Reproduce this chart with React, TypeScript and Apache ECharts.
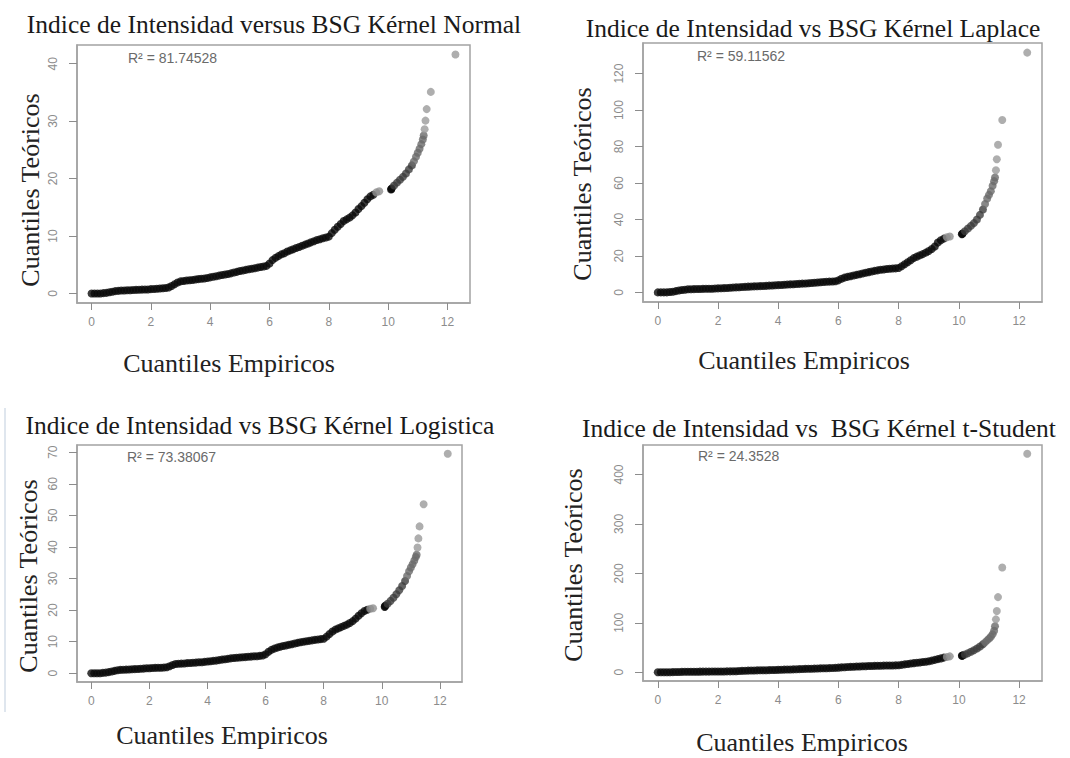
import React, { useEffect, useRef } from "react";
import * as echarts from "echarts";

// Empirical quantiles (shared x values of the four Q-Q plots)
const empiricalQuantiles = [
  0, 0.1, 0.2, 0.3, 0.4, 0.5, 0.6, 0.7, 0.8, 0.9,
  1.0, 1.1, 1.2, 1.3, 1.4, 1.5, 1.6, 1.7, 1.8, 1.9,
  2.0, 2.1, 2.2, 2.3, 2.4, 2.5, 2.6, 2.7, 2.8, 2.9,
  3.0, 3.1, 3.2, 3.3, 3.4, 3.5, 3.6, 3.7, 3.8, 3.9,
  4.0, 4.1, 4.2, 4.3, 4.4, 4.5, 4.6, 4.7, 4.8, 4.9,
  5.0, 5.1, 5.2, 5.3, 5.4, 5.5, 5.6, 5.7, 5.8, 5.9,
  6.0, 6.1, 6.2, 6.3, 6.4, 6.5, 6.6, 6.7, 6.8, 6.9,
  7.0, 7.1, 7.2, 7.3, 7.4, 7.5, 7.6, 7.7, 7.8, 7.9,
  8.0, 8.1, 8.2, 8.3, 8.4, 8.5, 8.6, 8.7, 8.8, 8.9,
  9.0, 9.1, 9.2, 9.3, 9.4, 9.5,
  9.6, 9.7,
  10.1, 10.11, 10.12, 10.2, 10.3, 10.4, 10.5, 10.6, 10.7, 10.8,
  10.87, 10.94, 11.0, 11.06, 11.12, 11.17, 11.2, 11.23, 11.26, 11.3,
  11.44, 12.27,
];

// Theoretical quantiles, BSG Kernel Normal
const theoreticalNormal = [
  0, 0, 0, 0, 0.05, 0.1, 0.2, 0.3, 0.4, 0.45,
  0.5, 0.52, 0.55, 0.57, 0.6, 0.62, 0.64, 0.66, 0.68, 0.7,
  0.75, 0.78, 0.82, 0.86, 0.9, 0.95, 1.05, 1.3, 1.6, 1.9,
  2.1, 2.18, 2.25, 2.3, 2.35, 2.42, 2.5, 2.55, 2.6, 2.7,
  2.8, 2.9, 3.0, 3.1, 3.2, 3.3, 3.4, 3.5, 3.65, 3.75,
  3.9, 4.0, 4.1, 4.2, 4.3, 4.4, 4.5, 4.6, 4.7, 4.8,
  5.2, 5.8, 6.2, 6.5, 6.8, 7.0, 7.3, 7.5, 7.7, 7.9,
  8.1, 8.3, 8.5, 8.7, 8.9, 9.1, 9.3, 9.45, 9.6, 9.75,
  9.9, 10.5, 11.1, 11.6, 12.1, 12.6, 12.9, 13.2, 13.6, 14.1,
  14.7, 15.2, 15.8, 16.4, 16.9, 17.2,
  17.6, 17.8,
  18.1, 18.2, 18.3, 18.8, 19.3, 19.8, 20.3, 20.9, 21.6, 22.3,
  23.0, 23.8, 24.5, 25.2, 26.0, 26.8, 27.5, 28.6, 30.1, 32.1,
  35.1, 41.6,
];

// Theoretical quantiles, BSG Kernel Laplace
const theoreticalLaplace = [
  0, 0, 0, 0, 0.2, 0.4, 0.7, 1.0, 1.3, 1.5,
  1.7, 1.75, 1.8, 1.85, 1.9, 1.95, 2.0, 2.0, 2.05, 2.1,
  2.2, 2.3, 2.35, 2.45, 2.55, 2.65, 2.75, 2.85, 2.95, 3.05,
  3.15, 3.25, 3.3, 3.4, 3.45, 3.55, 3.6, 3.7, 3.8, 3.9,
  4.0, 4.1, 4.2, 4.3, 4.4, 4.5, 4.6, 4.7, 4.8, 4.9,
  5.0, 5.15, 5.3, 5.45, 5.6, 5.7, 5.8, 5.9, 6.0, 6.1,
  6.6, 7.5, 8.1, 8.5, 8.9, 9.3, 9.6, 10.0, 10.4, 10.8,
  11.1, 11.5, 11.8, 12.1, 12.4, 12.6, 12.8, 13.0, 13.1, 13.2,
  13.4, 14.3, 15.4, 16.5, 17.6, 18.8, 19.6, 20.3, 21.0, 21.8,
  22.7, 23.8, 25.2, 27.4, 28.6, 29.5,
  30.2, 30.7,
  31.9, 32.1, 32.3, 33.5, 35.0, 36.5, 38.0, 40.0, 42.5, 45.5,
  48.5, 51.5, 53.5, 55.5, 58.5, 61.0, 63.0, 67.0, 73.0, 81.0,
  94.5, 131.5,
];

// Theoretical quantiles, BSG Kernel Logistica
const theoreticalLogistica = [
  0, 0, 0, 0, 0.1, 0.2, 0.35, 0.55, 0.75, 0.95,
  1.05, 1.1, 1.15, 1.2, 1.25, 1.3, 1.35, 1.4, 1.45, 1.55,
  1.6, 1.65, 1.7, 1.72, 1.75, 1.8, 1.9, 2.2, 2.6, 2.9,
  3.0, 3.05, 3.1, 3.2, 3.25, 3.3, 3.35, 3.45, 3.5, 3.6,
  3.7, 3.8, 3.9, 4.0, 4.15, 4.3, 4.4, 4.55, 4.7, 4.8,
  4.9, 5.0, 5.05, 5.1, 5.2, 5.25, 5.35, 5.4, 5.5, 5.6,
  6.0, 6.8, 7.4, 7.8, 8.1, 8.4, 8.6, 8.8, 9.0, 9.2,
  9.4, 9.6, 9.8, 9.95, 10.1, 10.25, 10.4, 10.55, 10.7, 10.8,
  10.9, 11.6, 12.4, 13.2, 13.8, 14.2, 14.6, 15.0, 15.4, 15.9,
  16.5, 17.3, 18.2, 19.0, 19.7, 20.1,
  20.4, 20.6,
  21.0, 21.2, 21.4, 22.0, 22.9, 23.9, 25.0, 26.3, 27.6, 29.2,
  30.8, 32.3, 33.5, 34.5, 35.7, 36.8, 37.5, 39.8, 42.7, 46.5,
  53.5, 69.5,
];

// Theoretical quantiles, BSG Kernel t-Student
const theoreticalTStudent = [
  0, 0, 0, 0, 0.1, 0.2, 0.4, 0.6, 0.8, 0.9,
  1.0, 1.05, 1.1, 1.15, 1.2, 1.25, 1.3, 1.35, 1.4, 1.45,
  1.55, 1.6, 1.7, 1.8, 1.85, 1.95, 2.1, 2.4, 2.8, 3.1,
  3.3, 3.45, 3.6, 3.75, 3.9, 4.05, 4.2, 4.35, 4.5, 4.7,
  4.9, 5.1, 5.3, 5.5, 5.7, 5.9, 6.1, 6.4, 6.6, 6.8,
  7.0, 7.2, 7.4, 7.6, 7.8, 8.0, 8.2, 8.4, 8.6, 8.8,
  9.3, 9.9, 10.3, 10.6, 10.9, 11.2, 11.5, 11.8, 12.0, 12.3,
  12.5, 12.7, 12.9, 13.1, 13.3, 13.45, 13.6, 13.7, 13.8, 13.9,
  14.1, 15.0, 16.0, 16.8, 17.6, 18.4, 19.2, 19.9, 20.6, 21.4,
  22.4, 23.6, 25.0, 26.5, 28.0, 29.6,
  31.0, 32.2,
  33.4, 33.7, 34.0, 36.0, 38.5, 41.5, 44.5, 48.0, 52.0, 56.5,
  60.5, 64.5, 68.0, 72.0, 77.0, 84.0, 93.0, 107.0, 124.0, 152.0,
  212.0, 442.0,
];

// tick labels
const xTicks = [0, 2, 4, 6, 8, 10, 12];
const yTicksNormal = [0, 10, 20, 30, 40];
const yTicksLaplace = [0, 20, 40, 60, 80, 100, 120];
const yTicksLogistica = [0, 10, 20, 30, 40, 50, 60, 70];
const yTicksTStudent = [0, 100, 200, 300, 400];

const panelTitles = [
  "Indice de Intensidad versus BSG Kérnel Normal",
  "Indice de Intensidad vs BSG Kérnel Laplace",
  "Indice de Intensidad vs BSG Kérnel Logistica",
  "Indice de Intensidad vs  BSG Kérnel t-Student",
];
const r2Labels = ["R² = 81.74528", "R² = 59.11562", "R² = 73.38067", "R² = 24.3528"];
const yAxisTitle = "Cuantiles Teóricos";
const xAxisTitle = "Cuantiles Empiricos";

const panelSeries = [theoreticalNormal, theoreticalLaplace, theoreticalLogistica, theoreticalTStudent];
const panelYTicks = [yTicksNormal, yTicksLaplace, yTicksLogistica, yTicksTStudent];

// layout (pixels)
const grids = [
  { left: 77, top: 45, width: 393, height: 258 },
  { left: 643, top: 43, width: 399, height: 259 },
  { left: 77, top: 445, width: 385, height: 237 },
  { left: 643, top: 445, width: 399, height: 236 },
];
const titlePos = [[274, 24], [813, 28], [260, 425], [819, 428]];
const yTitlePos = [[30, 190], [582, 184], [28, 576], [573, 565]];
const xTitlePos = [[229, 363], [804, 360], [222, 735], [802, 742]];
const r2Pos = [[128, 58], [697, 56], [127, 457], [698, 456]];

const serif = "'Liberation Serif', 'Times New Roman', serif";
const sans = "'Liberation Sans', Arial, sans-serif";
const axisGrey = "#8c8c8c";

function paddedRange(values: number[]): [number, number] {
  const lo = Math.min(...values);
  const hi = Math.max(...values);
  const pad = (hi - lo) * 0.04;
  return [lo - pad, hi + pad];
}

function pointColor(x: number): string {
  if (x < 9.55) return "#0a0a0a";
  if (x < 10.0) return "#8f8f8f";
  if (x < 10.15) return "#0a0a0a";
  if (x < 10.85) return "#3c3c3c";
  if (x < 11.21) return "#6a6a6a";
  return "#9a9a9a";
}

export default function App() {
  const ref = useRef<HTMLDivElement>(null);

  useEffect(() => {
    document.body.style.margin = "0";
    const chart = echarts.init(ref.current as HTMLDivElement, null, { renderer: "svg" });
    const [xMin, xMax] = paddedRange(empiricalQuantiles);

    const xAxes = grids.map((_, i) => ({
      type: "value",
      gridIndex: i,
      min: xMin,
      max: xMax,
      axisLine: { show: true, onZero: false, lineStyle: { color: "#a3a3a3", width: 1.5 } },
      splitLine: { show: false },
      axisTick: { show: true, length: 7, customValues: xTicks, lineStyle: { color: axisGrey, width: 1 } },
      axisLabel: { customValues: xTicks, margin: 13, color: axisGrey, fontSize: 12, fontFamily: sans },
    }));

    const yAxes = grids.map((_, i) => {
      const [yMin, yMax] = paddedRange(panelSeries[i]);
      return {
        type: "value",
        gridIndex: i,
        min: yMin,
        max: yMax,
        axisLine: { show: true, onZero: false, lineStyle: { color: "#a3a3a3", width: 1.5 } },
        splitLine: { show: false },
        axisTick: { show: true, length: 8, customValues: panelYTicks[i], lineStyle: { color: axisGrey, width: 1 } },
        axisLabel: {
          customValues: panelYTicks[i],
          rotate: 90,
          margin: 18,
          color: axisGrey,
          fontSize: 12,
          fontFamily: sans,
        },
      };
    });

    const series = panelSeries.map((ys, i) => ({
      type: "scatter",
      xAxisIndex: i,
      yAxisIndex: i,
      silent: true,
      symbol: "circle",
      symbolSize: 8,
      itemStyle: {
        color: (p: any) => pointColor(p.data[0]),
      },
      data: empiricalQuantiles.slice(0, ys.length).map((x, k) => [x, ys[k]]),
    }));

    const texts: any[] = [];
    for (let i = 0; i < 4; i++) {
      texts.push({
        type: "text",
        x: titlePos[i][0],
        y: titlePos[i][1],
        style: {
          text: panelTitles[i],
          fill: "#1a1a1a",
          font: `25.5px ${serif}`,
          textAlign: "center",
          textVerticalAlign: "middle",
        },
      });
      texts.push({
        type: "text",
        x: yTitlePos[i][0],
        y: yTitlePos[i][1],
        rotation: Math.PI / 2,
        style: {
          text: yAxisTitle,
          fill: "#222",
          font: `26px ${serif}`,
          textAlign: "center",
          textVerticalAlign: "middle",
        },
      });
      texts.push({
        type: "text",
        x: xTitlePos[i][0],
        y: xTitlePos[i][1],
        style: {
          text: xAxisTitle,
          fill: "#222",
          font: `26px ${serif}`,
          textAlign: "center",
          textVerticalAlign: "middle",
        },
      });
      texts.push({
        type: "text",
        x: r2Pos[i][0],
        y: r2Pos[i][1],
        style: {
          text: r2Labels[i],
          fill: "#6a6a6a",
          font: `14px ${sans}`,
          textAlign: "left",
          textVerticalAlign: "middle",
        },
      });
    }
    texts.push({
      type: "line",
      shape: { x1: 5, y1: 408, x2: 5, y2: 712 },
      style: { stroke: "#dfe6ee", lineWidth: 2 },
    });

    chart.setOption({
      animation: false,
      backgroundColor: "#ffffff",
      grid: grids.map((g) => ({
        ...g,
        show: true,
        borderColor: "#a3a3a3",
        borderWidth: 1.5,
        backgroundColor: "transparent",
        containLabel: false,
      })),
      xAxis: xAxes,
      yAxis: yAxes,
      series,
      graphic: texts,
    });

    return () => chart.dispose();
  }, []);

  return <div ref={ref} style={{ position: "absolute", left: 0, top: 0, width: 1070, height: 758 }} />;
}
